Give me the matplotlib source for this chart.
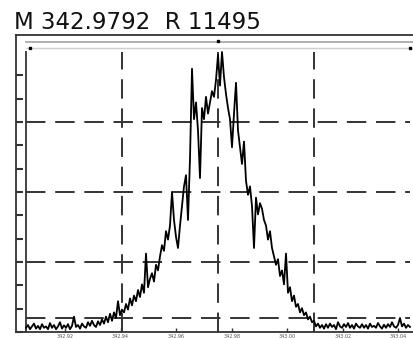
import numpy as np
import matplotlib
matplotlib.use("Agg")
import matplotlib.pyplot as plt

plt.rcParams['lines.scale_dashes'] = False

title = "M 342.9792  R 11495"

# x axis: mass range of the scan window
mass_lo, mass_hi = 342.90596, 343.0442
tick_masses = [342.92, 342.94, 342.96, 342.98, 343.00, 343.02, 343.04]
tick_labels = ["342.92", "342.94", "342.96", "342.98", "343.00", "343.02", "343.04"]

# relative intensity (%), every ~2 px
intensity = [
    1.5, 2.5, 1.0, 2.0, 3.0, 1.2, 2.2, 1.0, 2.8, 1.5,
    2.0, 1.0, 3.2, 1.5, 2.5, 1.0, 2.0, 3.5, 1.2, 2.4,
    1.5, 2.8, 1.0, 2.2, 5.5, 1.8, 2.5, 1.2, 3.0, 2.0,
    1.5, 3.5, 2.2, 4.0, 2.5, 1.8, 3.8, 2.5, 4.5, 3.0,
    5.5, 3.5, 6.5, 4.0, 7.0, 5.0, 11.0, 6.0, 8.0, 7.0,
    10.0, 8.0, 12.0, 9.5, 13.0, 11.0, 15.0, 12.5, 17.0, 14.0,
    28.0, 16.0, 19.0, 21.0, 18.0, 24.0, 22.0, 27.0, 31.0, 29.0,
    36.0, 33.0, 38.0, 50.0, 40.0, 34.0, 30.0, 38.0, 45.0, 52.0,
    56.0, 40.0, 62.0, 94.0, 76.0, 82.0, 72.0, 55.0, 80.0, 76.0,
    84.0, 78.0, 82.0, 86.0, 84.0, 90.0, 99.0, 88.0, 100.0, 91.0,
    85.0, 80.0, 76.0, 66.0, 78.0, 89.0, 72.0, 66.0, 60.0, 68.0,
    54.0, 49.0, 52.0, 45.0, 30.0, 48.0, 42.0, 46.0, 44.0, 40.0,
    38.0, 33.0, 36.0, 30.0, 27.0, 24.0, 26.0, 20.0, 22.0, 17.0,
    28.0, 14.0, 16.0, 11.0, 13.0, 9.0, 10.0, 7.0, 8.5, 6.0,
    7.0, 4.5, 5.5, 3.5, 4.0, 2.0, 3.0, 1.5, 2.5, 1.2,
    2.8, 1.5, 3.0, 1.8, 2.5, 1.0, 3.5, 2.0, 1.5, 2.8,
    1.8, 3.2, 1.5, 2.5, 1.2, 3.0, 2.0, 1.5, 2.8, 1.5,
    2.5, 1.2, 3.0, 1.8, 2.2, 1.5, 3.2, 2.0, 1.2, 2.6,
    1.5, 2.8, 1.8, 3.5, 2.0, 1.5, 2.5, 5.0, 2.0, 3.0,
    1.5, 2.5, 1.8,
]
mass = np.linspace(mass_lo, mass_hi, len(intensity))

hgrid = [5, 25, 50, 75]
outer_ticks = np.arange(12) * 100 / 12

W, H = 413, 338
fig = plt.figure(figsize=(W / 100, H / 100), dpi=100)

def box(x0, y0, x1, y1):
    return [x0 / W, 1 - y1 / H, (x1 - x0) / W, (y1 - y0) / H]

# outer frame
ax0 = fig.add_axes(box(16, 35, 413, 332))
ax0.set_ylim(0, 100 * 297 / 280)
ax0.set_xlim(0, 1)
ax0.spines['right'].set_visible(False)
for s in ['left', 'top', 'bottom']:
    ax0.spines[s].set_linewidth(1.3)
    ax0.spines[s].set_color('#333333')
ax0.set_xticks([])
ax0.set_yticks(outer_ticks)
ax0.tick_params(axis='y', direction='in', length=5, width=1.5, color='#333333', labelleft=False)
ax0.patch.set_alpha(0)
# scroll band along the top
ax0.axhline(100 * 290 / 280, xmin=10 / 397, xmax=1, color='#b0b0b0', lw=1.4)
ax0.axhline(100 * 284 / 280, xmin=10 / 397, xmax=1, color='#d0d0d0', lw=1.0)

# inner plot
ax = fig.add_axes(box(26, 52, 410, 332))
ax.patch.set_alpha(0)
ax.set_xlim(mass_lo, mass_hi)
ax.set_ylim(0, 100)
for s in ['right', 'top', 'bottom']:
    ax.spines[s].set_visible(False)
ax.spines['left'].set_linewidth(1.3)
ax.spines['left'].set_color('#333333')
ax.set_yticks([])
ax.set_xticks(tick_masses)
ax.set_xticklabels(tick_labels, fontsize=3.5, color='#555555')
ax.tick_params(axis='x', direction='in', length=3, width=1, pad=1.5, color='#333333')

dash = (0, (14, 7))
for v in np.linspace(mass_lo, mass_hi, 5)[1:4]:
    ax.axvline(v, color='#333333', lw=1.4, linestyle=dash, zorder=1)
for h in hgrid:
    ax.axhline(h, color='#333333', lw=1.4, linestyle=dash, zorder=1)

ax.plot(mass, intensity, color='black', lw=1.3, zorder=3, clip_on=False)

# small markers on the scroll band
ax.plot([mass[2], mass[-1]], [101.5, 101.5], ls='none', marker='s', ms=1.8, color='black', clip_on=False)
ax.plot([mass[96]], [103.8], ls='none', marker='s', ms=1.8, color='black', clip_on=False)

fig.text(14 / W, 1 - 29 / H, title, fontsize=16.5, family='DejaVu Sans', color='#111111')

fig.savefig("out.png", dpi=100)
